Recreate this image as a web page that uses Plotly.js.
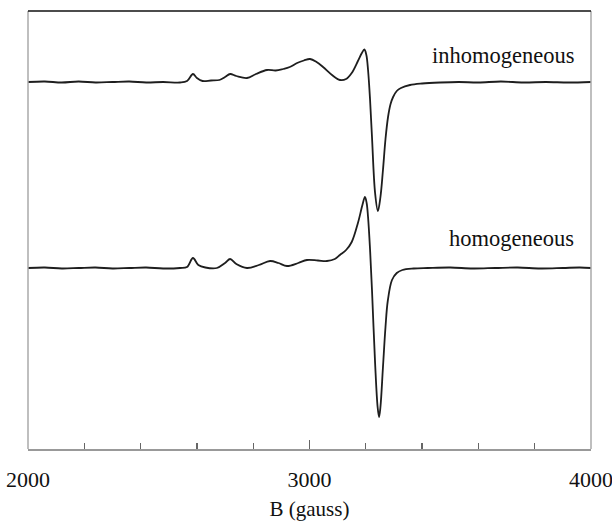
<!DOCTYPE html>
<html>
<head>
<meta charset="utf-8">
<script src="https://cdn.plot.ly/plotly-3.0.1.min.js"></script>
<style>
  html, body { margin: 0; padding: 0; background: #fff; }
  #chart { width: 612px; height: 528px; }
</style>
</head>
<body>
<div id="chart"></div>
<script>
// Magnetic field (gauss) and EPR derivative intensity (arbitrary units, offset traces)
const fieldInhomogeneous = [2000, 2060, 2120, 2180, 2240, 2300, 2360, 2420, 2480, 2540, 2565, 2586, 2600, 2620, 2650, 2680, 2700, 2718, 2740, 2778, 2810, 2849, 2880, 2906, 2930, 2956, 2980, 3002, 3025, 3048, 3080, 3108, 3130, 3150, 3172, 3186, 3195, 3202, 3208, 3215, 3222, 3233, 3243, 3252, 3261, 3270, 3279, 3288, 3297, 3310, 3325, 3357, 3400, 3464, 3530, 3600, 3680, 3760, 3840, 3920, 4000];
const intensityInhomogeneous = [367, 367.5, 366.5, 367.5, 366.5, 367, 367.5, 366.5, 367, 366.5, 368, 375, 371, 368, 368.5, 369, 372, 375, 373, 371, 375, 379, 378.5, 380, 382, 386, 388.5, 390, 387, 382, 374, 369, 370, 376, 388, 396, 399.5, 394, 379, 350, 312, 256, 238, 252, 279, 310, 332, 345, 352, 358, 361, 364, 365.5, 366.5, 367, 366.5, 367.5, 366.5, 367, 366.5, 367];

const fieldHomogeneous = [2000, 2060, 2120, 2180, 2240, 2300, 2360, 2420, 2480, 2540, 2565, 2586, 2605, 2630, 2671, 2700, 2718, 2740, 2778, 2820, 2860, 2890, 2920, 2960, 2991, 3030, 3062, 3090, 3108, 3130, 3150, 3172, 3188, 3197, 3203, 3208, 3215, 3222, 3233, 3242, 3247, 3252, 3261, 3270, 3278, 3293, 3310, 3330, 3370, 3420, 3500, 3580, 3660, 3740, 3820, 3900, 3960, 4000];
const intensityHomogeneous = [181, 181.5, 180.5, 181, 181.5, 180.5, 181, 181.5, 180.5, 181, 182, 191, 184, 181.5, 181, 186, 190, 185, 181, 184, 188, 186, 183, 186, 189, 188.5, 188, 190, 194, 199, 207, 226, 244, 252, 246, 232, 200, 159, 86, 42, 32, 42, 82, 122, 148, 169, 176, 179, 180.5, 181, 181.5, 180.5, 181, 181.5, 180.5, 181, 181.5, 181];

const xTickValues = [2000, 3000, 4000];
const xTickLabels = ["2000", "3000", "4000"];
const labelInhomogeneous = "inhomogeneous";
const labelHomogeneous = "homogeneous";
const xAxisTitle = "B (gauss)";

const lineStyle = { color: "#1e1e1e", width: 1.8, shape: "spline", smoothing: 1 };

const traces = [
  { x: fieldInhomogeneous, y: intensityInhomogeneous, type: "scatter", mode: "lines", line: lineStyle, hoverinfo: "skip" },
  { x: fieldHomogeneous, y: intensityHomogeneous, type: "scatter", mode: "lines", line: lineStyle, hoverinfo: "skip" }
];

const serif = "Liberation Serif, DejaVu Serif, serif";

const layout = {
  width: 612,
  height: 528,
  margin: { l: 28, r: 21, t: 11, b: 79 },
  paper_bgcolor: "#ffffff",
  plot_bgcolor: "#ffffff",
  showlegend: false,
  font: { family: serif, color: "#111", size: 22 },
  xaxis: {
    range: [2000, 4000],
    showgrid: false,
    zeroline: false,
    showline: true,
    linecolor: "#999999",
    linewidth: 1.5,
    tickmode: "array",
    tickvals: xTickValues,
    ticktext: xTickLabels,
    ticks: "inside",
    ticklen: 9,
    tickwidth: 1.3,
    tickcolor: "#666666",
    ticklabelstandoff: 10,
    ticklabeloverflow: "allow",
    tickfont: { family: serif, size: 22, color: "#111" },
    minor: { dtick: 200, tick0: 2000, ticks: "inside", ticklen: 6, tickwidth: 1.3, tickcolor: "#666666", showgrid: false },
    title: { text: xAxisTitle, font: { family: serif, size: 21, color: "#111" }, standoff: 10 },
    fixedrange: true
  },
  yaxis: {
    range: [0, 438],
    showgrid: false,
    zeroline: false,
    showline: false,
    showticklabels: false,
    ticks: "",
    fixedrange: true
  },
  shapes: [
    { type: "line", xref: "paper", yref: "paper", x0: 0, x1: 0, y0: 0, y1: 1, line: { color: "#aaaaaa", width: 1.5 } },
    { type: "line", xref: "paper", yref: "paper", x0: 1, x1: 1, y0: 0, y1: 1, line: { color: "#aaaaaa", width: 1.5 } },
    { type: "line", xref: "paper", yref: "paper", x0: 0, x1: 1, y0: 1, y1: 1, line: { color: "#111111", width: 1.5 } }
  ],
  annotations: [
    { text: labelInhomogeneous, xref: "x", yref: "y", x: 3945, y: 394, xanchor: "right", yanchor: "middle", showarrow: false, font: { family: serif, size: 22.5, color: "#111" } },
    { text: labelHomogeneous, xref: "x", yref: "y", x: 3945, y: 211, xanchor: "right", yanchor: "middle", showarrow: false, font: { family: serif, size: 22.5, color: "#111" } }
  ]
};

Plotly.newPlot("chart", traces, layout, { staticPlot: true, displayModeBar: false });
</script>
</body>
</html>
